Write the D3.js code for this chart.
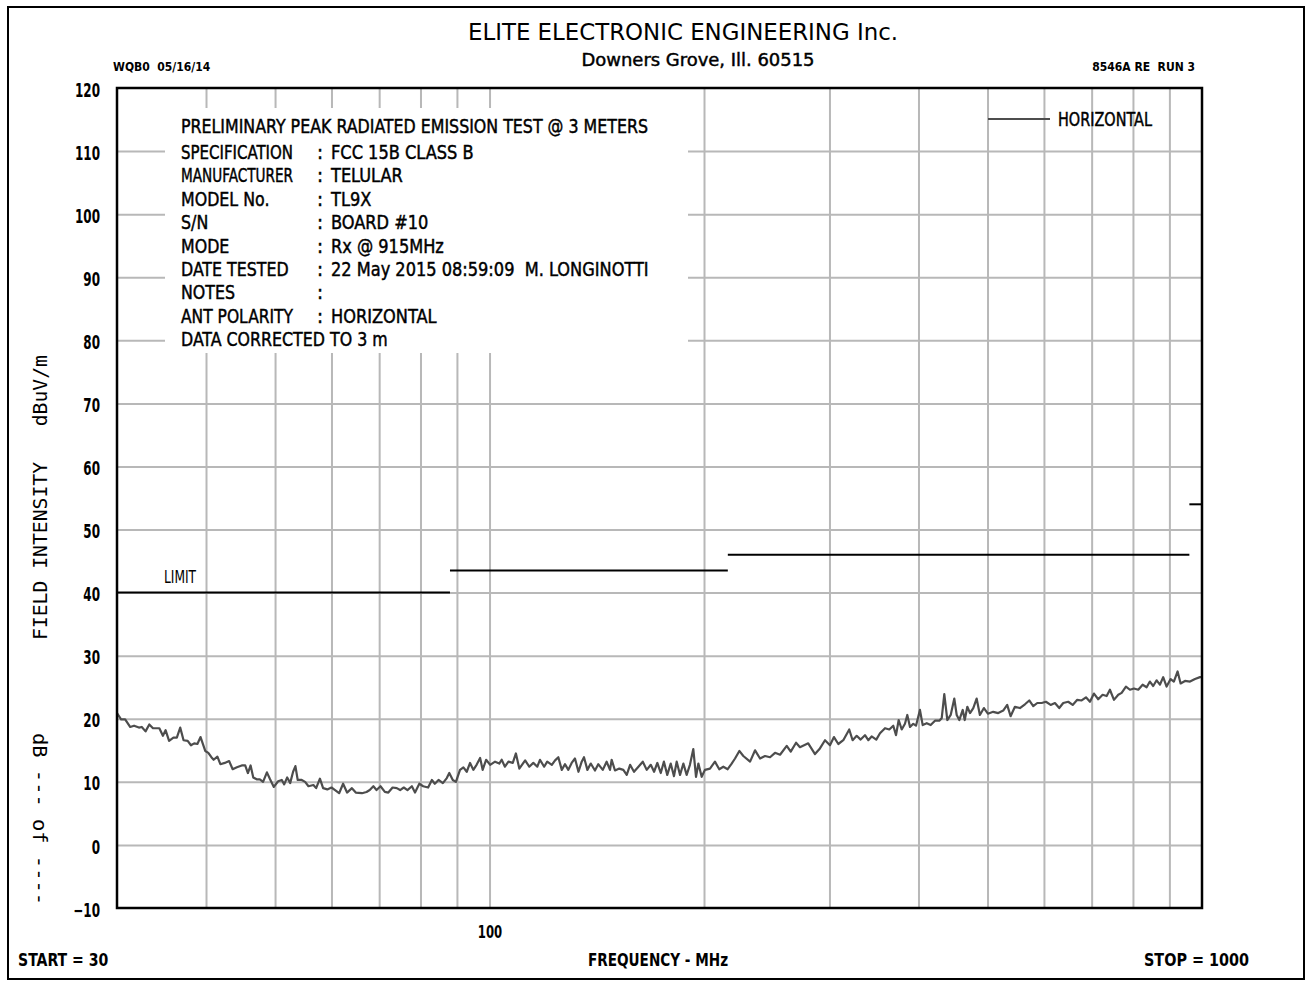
<!DOCTYPE html>
<html>
<head>
<meta charset="utf-8">
<script src="https://cdn.jsdelivr.net/npm/d3@7/dist/d3.min.js"></script>
<style>
body { margin: 0; background: #fff; }
svg text { font-family: "DejaVu Sans Condensed", "DejaVu Sans", sans-serif; fill: #000; white-space: pre; }
</style>
</head>
<body>
<script>
"use strict"
const w = 1312, h = 984;

// trace: frequency (MHz) and field intensity (dBuV/m)
const freqMHz = [
	30, 30.4, 30.8, 31.3, 31.7, 32.2, 32.5, 32.9, 33.3, 33.7,
	34.4, 34.8, 35.1, 35.5, 36.0, 36.4, 36.8, 37.2, 37.7, 38.1,
	38.5, 38.9, 39.3, 39.9, 40.3, 40.7, 41.0, 41.5, 41.9, 42.5,
	43.1, 43.6, 44.2, 44.9, 45.4, 45.8, 46.2, 46.6, 47.1, 47.6,
	48.1, 48.7, 49.2, 49.8, 50.5, 51.1, 51.5, 52.0, 52.5, 53.0,
	53.4, 53.8, 54.5, 55.1, 55.7, 56.6, 57.1, 57.8, 58.4, 59.2,
	60.0, 60.7, 61.5, 62.3, 63.1, 64.1, 64.9, 66.2, 67.2, 67.9,
	68.7, 69.4, 70.3, 71.3, 72.1, 73.1, 74.1, 74.9, 75.8, 76.7,
	77.8, 78.6, 79.7, 80.7, 82.0, 83.0, 83.8, 84.8, 86.0, 87.1,
	87.8, 88.8, 89.7, 90.9, 91.9, 92.9, 93.9, 94.9, 95.9, 97.0,
	97.8, 98.9, 100.2, 101.8, 103.2,
	104.0, 105.1, 106.3, 107.8, 108.9, 110.1, 112.2, 113.7, 115.2, 116.7,
	117.7, 119.3, 120.5, 122.3, 123.6, 124.9, 126.3, 127.6, 129.0, 130.4,
	131.8, 133.3, 134.7, 135.7, 137.2, 138.7, 140.6, 142.1, 144.2, 146.0,
	147.6, 148.4, 150.0, 152.1, 154.1, 155.8, 157.5, 159.5, 161.8, 164.1,
	166.2, 168.4, 170.2, 172.0, 173.9, 175.7, 177.6, 179.6, 181.5, 183.1,
	185.1, 187.1, 189.1, 191.1, 193.2, 194.9, 196.4, 198.5, 200.6, 203.9,
	207.2, 210.1, 212.9, 215.9, 218.7, 221.1, 224.2, 227.1, 232.1, 235.9,
	239.7, 243.6, 247.6, 251.6, 255.7, 261.3, 264.7, 269.3, 272.7, 280.1,
	286.3, 290.9, 295.7, 300.5, 304.4, 308.7, 313.7, 319.8, 323.3, 327.6,
	331.8, 336.5, 340.1, 343.8, 349.0, 353.2, 359.0, 364.0, 368.7, 372.0,
	375.2, 378.9, 382.9, 385.8, 389.2, 393.3, 396.8, 401.9, 405.5, 410.8,
	416.1, 421.9, 427.8, 431.2, 434.8, 439.1, 443.9, 449.1, 452.6, 456.4,
	461.5, 464.5, 468.4, 472.5, 477.5, 482.7, 487.8, 494.2, 500.6, 509.3,
	517.6, 526.0, 532.8, 538.7, 546.3, 555.2, 564.3, 572.2, 579.6, 587.2,
	595.6, 603.9, 613.1, 621.7, 630.4, 638.6, 649.0, 658.4, 668.2, 677.7,
	687.3, 696.2, 705.3, 715.1, 725.3, 734.8, 742.6, 752.4, 762.9, 771.3,
	782.1, 792.2, 802.6, 813.8, 825.4, 836.2, 845.0, 854.1, 863.6, 872.8,
	882.1, 891.9, 903.5, 913.1, 924.2, 933.2, 946.5, 962.0, 977.6, 993.6, 1000
];
const fieldDbuV = [
	20.9, 19.9, 19.9, 18.7, 18.9, 18.6, 18.7, 18.0, 19.1, 18.5,
	18.5, 17.3, 18.2, 16.5, 17.0, 17.0, 18.6, 16.6, 16.5, 15.8,
	16.1, 16.0, 17.1, 14.9, 14.6, 13.9, 13.5, 14.0, 12.8, 13.0,
	13.3, 12.0, 12.3, 12.6, 12.6, 11.4, 12.6, 10.7, 10.4, 10.4,
	10.0, 11.5, 10.4, 9.2, 10.1, 10.3, 9.6, 10.7, 9.8, 11.6,
	12.5, 10.3, 10.3, 10.0, 9.3, 9.5, 9.0, 10.5, 9.0, 8.8,
	9.1, 8.7, 8.2, 9.7, 8.3, 9.0, 8.3, 8.2, 8.4, 8.7,
	9.3, 8.7, 9.3, 8.4, 8.3, 9.1, 9.0, 8.7, 9.1, 8.7,
	9.3, 8.3, 9.7, 9.3, 9.1, 10.3, 9.7, 10.3, 9.8, 10.6,
	11.4, 10.3, 10.0, 11.9, 12.3, 11.6, 13.0, 11.9, 12.7, 13.8,
	11.9, 13.5, 12.7, 13.2, 12.9,
	13.5, 12.4, 13.2, 13.0, 14.5, 12.1, 13.4, 12.4, 13.0, 12.4,
	13.5, 12.4, 13.2, 12.7, 13.4, 13.9, 11.9, 12.8, 11.9, 13.0,
	13.7, 11.6, 13.2, 13.9, 11.9, 12.9, 11.8, 12.8, 11.9, 13.2,
	11.9, 13.5, 11.8, 12.1, 11.9, 11.1, 12.7, 11.6, 12.4, 13.2,
	11.9, 12.7, 11.6, 13.0, 11.4, 13.2, 11.1, 12.9, 10.9, 13.2,
	11.1, 12.9, 11.1, 12.7, 15.2, 10.8, 12.9, 10.8, 11.9, 12.1,
	13.2, 12.0, 12.4, 12.0, 12.9, 13.7, 14.9, 14.1, 13.2, 15.0,
	13.7, 14.1, 13.9, 14.6, 14.3, 15.7, 14.8, 16.2, 15.5, 16.1,
	14.4, 15.3, 16.6, 15.8, 17.1, 16.0, 16.6, 18.3, 16.6, 17.3,
	16.7, 17.4, 16.6, 17.2, 16.7, 17.7, 18.5, 18.3, 18.9, 17.4,
	19.8, 18.3, 19.2, 20.6, 18.7, 19.2, 18.9, 21.4, 19.0, 19.3,
	19.0, 19.7, 19.7, 20.1, 23.9, 19.8, 20.6, 23.2, 20.6, 19.8,
	21.4, 19.8, 21.9, 20.9, 21.7, 23.2, 20.6, 21.7, 20.8, 21.1,
	20.9, 21.3, 22.2, 20.4, 21.9, 21.7, 22.3, 22.9, 22.0, 22.5,
	22.5, 22.7, 22.2, 22.5, 21.7, 22.5, 22.7, 22.2, 23.0, 22.9,
	23.4, 22.7, 24.0, 23.1, 23.8, 23.6, 24.6, 23.0, 23.8, 24.1,
	25.1, 24.6, 24.8, 24.6, 25.4, 25.0, 25.9, 25.2, 26.1, 25.4,
	26.6, 25.1, 26.3, 25.9, 27.5, 25.6, 26.0, 25.9, 26.3, 26.6, 26.6
];

// FCC 15B class B limit steps
const limitFrom = [30, 88, 216, 960];
const limitTo = [88, 216, 960, 1000];
const limitDb = [40, 43.5, 46, 54];

const yTicks = [-10, 0, 10, 20, 30, 40, 50, 60, 70, 80, 90, 100, 110, 120];
const yGrid = [0, 10, 20, 30, 40, 50, 60, 70, 80, 90, 100, 110];
const xGrid = [40, 50, 60, 70, 80, 90, 100, 200, 300, 400, 500, 600, 700, 800, 900];
const xLabels = [100];

const infoTitle = 'PRELIMINARY PEAK RADIATED EMISSION TEST @ 3 METERS';
const infoKeys = ['SPECIFICATION', 'MANUFACTURER', 'MODEL No.', 'S/N', 'MODE', 'DATE TESTED', 'NOTES', 'ANT POLARITY'];
const infoValues = ['FCC 15B CLASS B', 'TELULAR', 'TL9X', 'BOARD #10', 'Rx @ 915MHz', '22 May 2015 08:59:09  M. LONGINOTTI', '', 'HORIZONTAL'];
const infoFoot = 'DATA CORRECTED TO 3 m';

const plotL = 117, plotR = 1202, plotT = 88, plotB = 908;

// narrow plotter lettering: squeeze text to k of its natural width, never wider than maxW
function squeeze(sel, k, maxW) {
	sel.each(function () {
		let n = this.getComputedTextLength() * k;
		if (maxW && n > maxW) n = maxW;
		d3.select(this).attr('textLength', n).attr('lengthAdjust', 'spacingAndGlyphs');
	});
}

const mySvg = d3.select('body')
	.append('svg')
	.attr('width', w)
	.attr('height', h);

mySvg.append('rect')
	.attr('x', 8).attr('y', 7)
	.attr('width', 1296).attr('height', 972)
	.attr('fill', 'none')
	.attr('stroke', '#000')
	.attr('stroke-width', 2);

const xScale = d3.scaleLog().domain([30, 1000]).range([plotL, plotR]);
const yScale = d3.scaleLinear().domain([-10, 120]).range([plotB, plotT]);

// grid
mySvg.append('g')
	.attr('transform', 'translate(0,' + plotB + ')')
	.call(d3.axisBottom(xScale).tickValues(xGrid).tickSize(-(plotB - plotT)).tickFormat(''))
	.call(g => g.select('.domain').remove())
	.selectAll('line')
	.attr('stroke', '#b8b8b8')
	.attr('stroke-width', 2);

mySvg.append('g')
	.attr('transform', 'translate(' + plotL + ',0)')
	.call(d3.axisLeft(yScale).tickValues(yGrid).tickSize(-(plotR - plotL)).tickFormat(''))
	.call(g => g.select('.domain').remove())
	.selectAll('line')
	.attr('stroke', '#b8b8b8')
	.attr('stroke-width', 2);

// info block hides the grid
mySvg.append('rect')
	.attr('x', 165).attr('y', 108)
	.attr('width', 523).attr('height', 245)
	.attr('fill', '#fff');

// limit
mySvg.selectAll('.limit')
	.data(limitDb)
	.enter()
	.append('line')
	.attr('class', 'limit')
	.attr('x1', (d, i) => xScale(limitFrom[i]))
	.attr('x2', (d, i) => xScale(limitTo[i]))
	.attr('y1', d => yScale(d))
	.attr('y2', d => yScale(d))
	.attr('stroke', '#000')
	.attr('stroke-width', 2);

mySvg.append('text')
	.attr('x', 164).attr('y', 583)
	.style('font-size', '17px')
	.text('LIMIT')
	.call(squeeze, 0.8);

// trace
const trace = d3.zip(freqMHz, fieldDbuV);
mySvg.append('path')
	.datum(trace)
	.attr('fill', 'none')
	.attr('stroke', '#4d4d4d')
	.attr('stroke-width', 2.2)
	.attr('stroke-linejoin', 'round')
	.attr('d', d3.line().x(d => xScale(d[0])).y(d => yScale(d[1])));

// plot frame
mySvg.append('rect')
	.attr('x', plotL).attr('y', plotT)
	.attr('width', plotR - plotL).attr('height', plotB - plotT)
	.attr('fill', 'none')
	.attr('stroke', '#000')
	.attr('stroke-width', 2.5);

// axes labels
mySvg.append('g')
	.attr('transform', 'translate(' + plotL + ',2)')
	.call(d3.axisLeft(yScale).tickValues(yTicks).tickSize(0).tickPadding(17))
	.call(g => g.select('.domain').remove())
	.selectAll('text')
	.style('font-size', '19px')
	.style('font-weight', 'bold')
	.style('font-family', '"DejaVu Sans Condensed", sans-serif')
	.call(squeeze, 0.7);

mySvg.append('g')
	.attr('transform', 'translate(0,' + plotB + ')')
	.call(d3.axisBottom(xScale).tickValues(xLabels).tickSize(0).tickPadding(17).tickFormat(d3.format('d')))
	.call(g => g.select('.domain').remove())
	.selectAll('text')
	.style('font-size', '18px')
	.style('font-weight', 'bold')
	.style('font-family', '"DejaVu Sans Condensed", sans-serif')
	.call(squeeze, 0.72);

// legend
mySvg.append('line')
	.attr('x1', 988).attr('x2', 1050)
	.attr('y1', 119).attr('y2', 119)
	.attr('stroke', '#4d4d4d')
	.attr('stroke-width', 1.8);
mySvg.append('text')
	.attr('x', 1058).attr('y', 126)
	.attr('textLength', 94)
	.attr('lengthAdjust', 'spacingAndGlyphs')
	.style('font-size', '19px')
	.style('stroke', '#000')
	.style('stroke-width', 0.45)
	.text('HORIZONTAL');

// info block text, one text per line (key, colon, value as tspans)
const info = mySvg.append('g')
	.style('font-size', '20px')
	.style('stroke', '#000')
	.style('stroke-width', 0.45);
info.append('text').attr('x', 181).attr('y', 133)
	.attr('textLength', 467).attr('lengthAdjust', 'spacingAndGlyphs')
	.text(infoTitle);
infoKeys.forEach((k, i) => {
	const line = info.append('text').attr('y', 159 + i * 23.4);
	line.append('tspan').attr('x', 181).text(k).call(squeeze, 0.88, 112);
	line.append('tspan').attr('x', 317).text(':');
	if (infoValues[i]) line.append('tspan').attr('x', 331).text(infoValues[i]).call(squeeze, 0.9);
});
info.append('text').attr('x', 181).attr('y', 159 + 8 * 23.4).text(infoFoot).call(squeeze, 0.88);

// header
mySvg.append('text')
	.attr('x', 683).attr('y', 40)
	.attr('text-anchor', 'middle')
	.attr('textLength', 430)
	.attr('lengthAdjust', 'spacingAndGlyphs')
	.style('font-size', '23px')
	.text('ELITE ELECTRONIC ENGINEERING Inc.');
mySvg.append('text')
	.attr('x', 698).attr('y', 66)
	.attr('text-anchor', 'middle')
	.attr('textLength', 233)
	.attr('lengthAdjust', 'spacingAndGlyphs')
	.style('font-size', '17px')
	.style('stroke', '#000')
	.style('stroke-width', 0.4)
	.text('Downers Grove, Ill. 60515');
mySvg.append('text')
	.attr('x', 113).attr('y', 71)
	.style('font-size', '12px')
	.style('font-weight', 'bold')
	.text('WQB0  05/16/14');
mySvg.append('text')
	.attr('x', 1195).attr('y', 71)
	.attr('text-anchor', 'end')
	.style('font-size', '12px')
	.style('font-weight', 'bold')
	.text('8546A RE  RUN 3');

// footer
const foot = mySvg.append('g').style('font-size', '17px').style('font-weight', 'bold');
foot.append('text').attr('x', 18).attr('y', 966).text('START = 30').call(squeeze, 0.92);
foot.append('text').attr('x', 658).attr('y', 966).attr('text-anchor', 'middle').text('FREQUENCY - MHz').call(squeeze, 0.89);
foot.append('text').attr('x', 1249).attr('y', 966).attr('text-anchor', 'end').text('STOP = 1000').call(squeeze, 0.94);

// y axis title
mySvg.append('text')
	.attr('transform', 'translate(47,640) rotate(-90)')
	.attr('textLength', 285)
	.attr('lengthAdjust', 'spacingAndGlyphs')
	.style('font-family', '"DejaVu Sans Mono", monospace')
	.style('font-size', '19px')
	.text('FIELD INTENSITY   dBuV/m');
mySvg.append('text')
	.attr('transform', 'translate(33,733) rotate(90)')
	.attr('textLength', 172)
	.attr('lengthAdjust', 'spacingAndGlyphs')
	.style('font-family', '"DejaVu Sans Mono", monospace')
	.style('font-size', '19px')
	.text('dB --- of ----');
</script>
</body>
</html>
